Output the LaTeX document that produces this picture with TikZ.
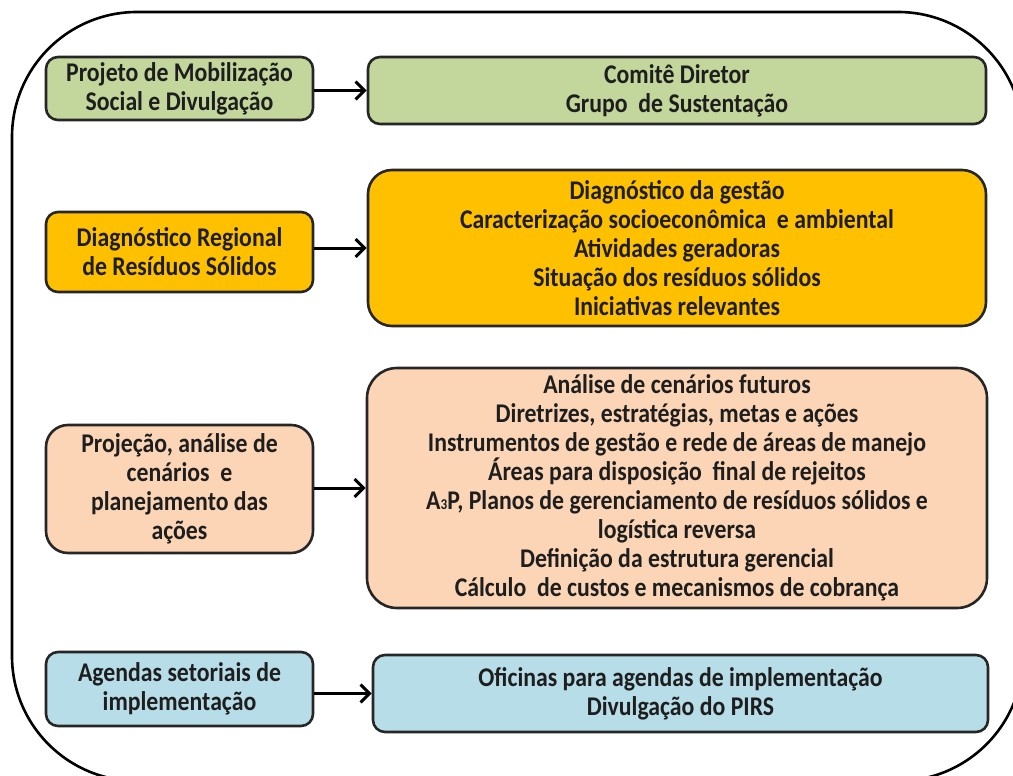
\documentclass[tikz,border=0pt]{standalone}
\usepackage{fontspec}
\setmainfont{Carlito}[FakeStretch=0.88]
\usetikzlibrary{arrows.meta}
\definecolor{cgreen}{HTML}{C3D69B}
\definecolor{cyellow}{HTML}{FFC000}
\definecolor{cpeach}{HTML}{FBD5B5}
\definecolor{cblue}{HTML}{B7DEE8}
\definecolor{ctext}{HTML}{1E1E1E}
\definecolor{cborder}{HTML}{262626}
\tikzset{
  box/.style={draw=cborder, line width=2.6pt, rounded corners=12pt, align=center,
    inner sep=0pt, text=ctext, font=\fontsize{27}{29}\selectfont\bfseries},
  conn/.style={line width=3pt, draw=black, -{Straight Barb[length=9pt,width=18pt,line width=3pt]}},
}
\begin{document}
\begin{tikzpicture}[x=1pt,y=-1pt]
\useasboundingbox (0,0) rectangle (1013,776);
\begin{scope}
\clip (0,0) rectangle (1013,776);
\draw[line width=2.6pt, rounded corners=125pt] (12,12) rectangle (1023,781);
\end{scope}
% row 1
\node[box, fill=cgreen, minimum width=267pt, minimum height=63pt] (l1) at (179.5,88.5)
  {Projeto de Mobilização\\Social e Divulgação};
\node[box, fill=cgreen, minimum width=618pt, minimum height=67pt] (r1) at (677,90.5)
  {Comitê Diretor\\Grupo\ \ de Sustentação};
% row 2
\node[box, fill=cyellow, minimum width=267pt, minimum height=80pt] (l2) at (179.5,252)
  {Diagnóstico Regional\\de Resíduos Sólidos};
\node[box, fill=cyellow, rounded corners=24pt, minimum width=618pt, minimum height=156pt] (r2) at (677,248)
  {Diagnóstico da gestão\\Caracterização socioeconômica\ \ e ambiental\\Atividades geradoras\\Situação dos resíduos sólidos\\Iniciativas relevantes};
% row 3
\node[box, fill=cpeach, rounded corners=22pt, minimum width=267pt, minimum height=128pt] (l3) at (179.5,489)
  {Projeção, análise de\\cenários\ \ e\\planejamento das\\ações};
\node[box, fill=cpeach, rounded corners=30pt, minimum width=620pt, minimum height=240pt] (r3) at (677,488)
  {Análise de cenários futuros\\Diretrizes, estratégias, metas e ações\\Instrumentos de gestão e rede de áreas de manejo\\Áreas para disposição\ \ final de rejeitos\\A{\fontsize{15}{15}\selectfont 3}P, Planos de gerenciamento de resíduos sólidos e\\logística reversa\\Definição da estrutura gerencial\\Cálculo\ \ de custos e mecanismos de cobrança};
% row 4
\node[box, fill=cblue, minimum width=267pt, minimum height=74pt] (l4) at (179.5,689)
  {Agendas setoriais de\\implementação};
\node[box, fill=cblue, minimum width=615pt, minimum height=77pt] (r4) at (680.5,693.5)
  {Oficinas para agendas de implementação\\Divulgação do PIRS};
% arrows
\draw[conn] (r1.west -| l1.east) -- (r1.west);
\draw[conn] (r2.west -| l2.east) -- (r2.west);
\draw[conn] (r3.west -| l3.east) -- (r3.west);
\draw[conn] (r4.west -| l4.east) -- (r4.west);
\end{tikzpicture}
\end{document}
